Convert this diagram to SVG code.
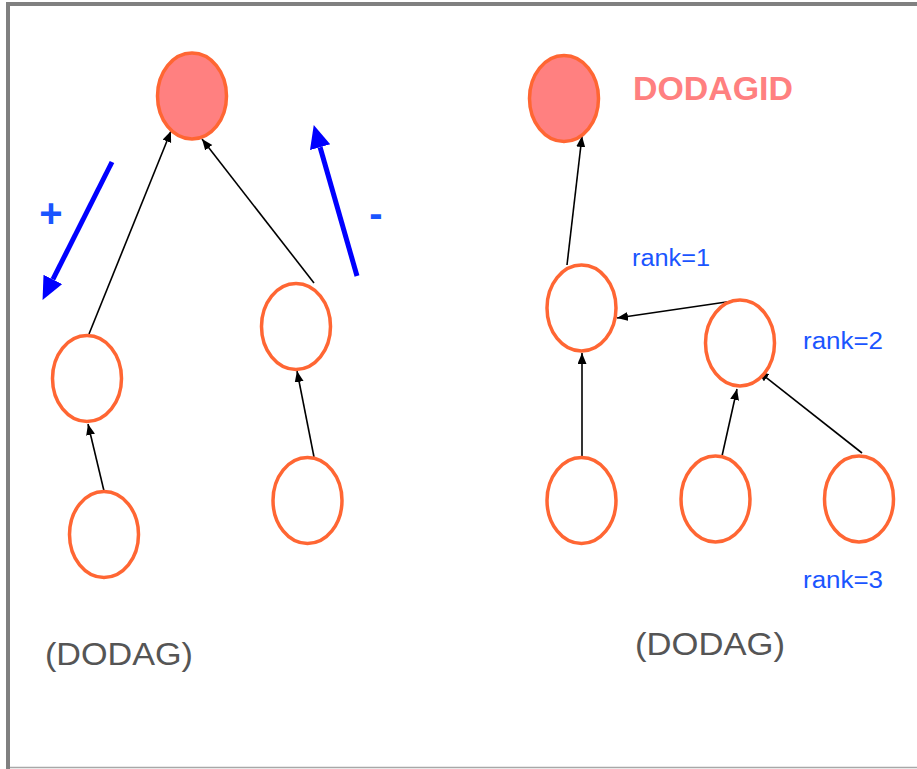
<svg xmlns="http://www.w3.org/2000/svg" width="917" height="769" viewBox="0 0 917 769">
<defs>
<style>
.node{fill:#ffffff;stroke:#FF6633;stroke-width:3.5}
.root{fill:#FF8080}
.edge{stroke:#000;stroke-width:1.6;fill:none}
.blue{stroke:#0000FF;stroke-width:5;fill:none}
.rank{font-family:"Liberation Sans",Arial,sans-serif;font-size:23.5px;fill:#1a55ff}
.sign{font-family:"Liberation Sans",Arial,sans-serif;font-size:40px;font-weight:bold;fill:#1a55ff;text-anchor:middle}
.cap{font-family:"Liberation Sans",Arial,sans-serif;font-size:30.5px;fill:#555555}
</style>
<marker id="ah" markerUnits="userSpaceOnUse" markerWidth="12" markerHeight="10" refX="11" refY="4.5" orient="auto">
<path d="M0,0 L11,4.5 L0,9 z" fill="#000"/>
</marker>
<marker id="bh" markerUnits="userSpaceOnUse" markerWidth="24" markerHeight="22" refX="0" refY="10.5" orient="auto">
<path d="M0,0 L23,10.5 L0,21 z" fill="#0000FF"/>
</marker>
</defs>
<rect width="917" height="769" fill="#ffffff"/>
<g id="frame">
<path d="M8,769 V4 H917" fill="none" stroke="#808080" stroke-width="4"/>
<path d="M10,767.6 H917" fill="none" stroke="#a8a8a8" stroke-width="1.5"/>
</g>
<g id="connectors">
<path class="edge" d="M89,334 L171,131" marker-end="url(#ah)"/>
<path class="edge" d="M314,283 L202,139" marker-end="url(#ah)"/>
<path class="edge" d="M104,491 L88,424" marker-end="url(#ah)"/>
<path class="edge" d="M314,457 L297,371" marker-end="url(#ah)"/>
<path class="edge" d="M567,265 L582,136" marker-end="url(#ah)"/>
<path class="edge" d="M740,300 L617,318" marker-end="url(#ah)"/>
<path class="edge" d="M582,456 L582,353" marker-end="url(#ah)"/>
<path class="edge" d="M722,456 L737,389" marker-end="url(#ah)"/>
<path class="edge" d="M862,453 L758,371" marker-end="url(#ah)"/>
<path class="blue" d="M112,162 L52.9,279.4" marker-end="url(#bh)"/>
<path class="blue" d="M357,276 L320.1,147.2" marker-end="url(#bh)"/>
</g>
<g id="left-root"><ellipse class="node root" cx="192" cy="96" rx="34.5" ry="43"/></g>
<g id="left-mid-a"><ellipse class="node" cx="87" cy="378.5" rx="34.5" ry="43"/></g>
<g id="left-bottom-a"><ellipse class="node" cx="104" cy="534.5" rx="34.5" ry="43"/></g>
<g id="left-mid-b"><ellipse class="node" cx="296" cy="326.5" rx="34.5" ry="43"/></g>
<g id="left-bottom-b"><ellipse class="node" cx="307.5" cy="500.5" rx="34.5" ry="43"/></g>
<g id="right-root"><ellipse class="node root" cx="564" cy="98.5" rx="34.5" ry="43"/></g>
<g id="rank1"><ellipse class="node" cx="581.5" cy="308" rx="34.5" ry="43"/></g>
<g id="rank2"><ellipse class="node" cx="740" cy="343" rx="34.5" ry="43"/></g>
<g id="rank3-a"><ellipse class="node" cx="581.5" cy="500.5" rx="34.5" ry="43"/></g>
<g id="rank3-b"><ellipse class="node" cx="715.5" cy="499" rx="34.5" ry="43"/></g>
<g id="rank3-c"><ellipse class="node" cx="859" cy="499" rx="34.5" ry="43"/></g>
<g id="labels">
<text class="sign" x="51" y="227">+</text>
<text class="sign" x="376" y="227">-</text>
<text x="633" y="100" font-family="'Liberation Sans',Arial,sans-serif" font-size="34" font-weight="bold" fill="#FF8080" textLength="160" lengthAdjust="spacingAndGlyphs">DODAGID</text>
<text class="rank" x="632" y="266" textLength="78" lengthAdjust="spacingAndGlyphs">rank=1</text>
<text class="rank" x="803" y="349" textLength="80" lengthAdjust="spacingAndGlyphs">rank=2</text>
<text class="rank" x="803" y="588" textLength="80" lengthAdjust="spacingAndGlyphs">rank=3</text>
<text class="cap" x="45" y="665" textLength="148" lengthAdjust="spacingAndGlyphs">(DODAG)</text>
<text class="cap" x="635" y="655" textLength="150" lengthAdjust="spacingAndGlyphs">(DODAG)</text>
</g>
</svg>
